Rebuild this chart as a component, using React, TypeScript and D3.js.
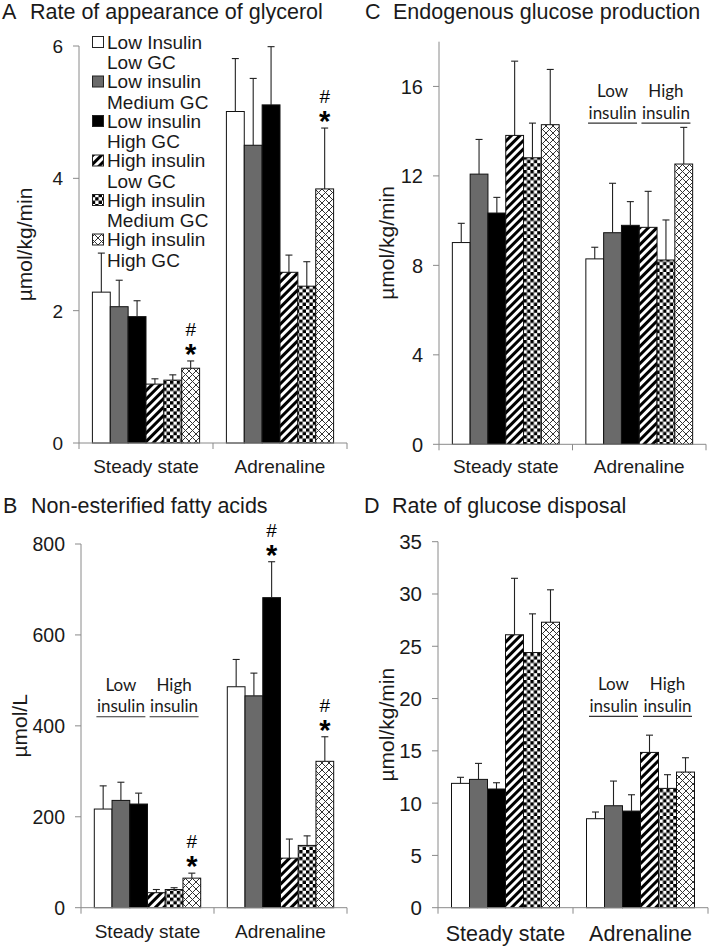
import React from 'react';
import * as d3 from 'd3';

// groups on the x axis
const categories = ['Steady state', 'Adrenaline'];

// the six clamp conditions (legend reads insulin line, then GC line)
const insulinLevels = ['Low Insulin', 'Low insulin', 'Low insulin', 'High insulin', 'High insulin', 'High insulin'];
const gcLevels = ['Low GC', 'Medium GC', 'High GC', 'Low GC', 'Medium GC', 'High GC'];

// A: rate of appearance of glycerol (µmol/kg/min)
const glycerolSteady = [2.28, 2.06, 1.91, 0.89, 0.95, 1.13];
const glycerolSteadySE = [0.59, 0.4, 0.24, 0.08, 0.08, 0.11];
const glycerolAdr = [5.01, 4.5, 5.11, 2.58, 2.37, 3.84];
const glycerolAdrSE = [0.8, 1.01, 0.88, 0.26, 0.37, 0.92];

// B: non-esterified fatty acids (µmol/L)
const nefaSteady = [217, 236, 228, 33, 40, 65];
const nefaSteadySE = [51, 40, 24, 7, 4, 11];
const nefaAdr = [486, 466, 682, 109, 137, 322];
const nefaAdrSE = [60, 50, 79, 42, 21, 54];

// C: endogenous glucose production (µmol/kg/min)
const egpSteady = [9.02, 12.08, 10.34, 13.81, 12.81, 14.29];
const egpSteadySE = [0.86, 1.55, 0.7, 3.32, 1.55, 2.47];
const egpAdr = [8.29, 9.46, 9.79, 9.7, 8.24, 12.53];
const egpAdrSE = [0.52, 2.21, 1.06, 1.61, 1.79, 1.64];

// D: rate of glucose disposal (µmol/kg/min)
const rdSteady = [11.89, 12.27, 11.35, 26.1, 24.4, 27.3];
const rdSteadySE = [0.58, 1.53, 0.6, 5.4, 3.7, 3.1];
const rdAdr = [8.51, 9.75, 9.24, 14.85, 11.41, 12.97];
const rdAdrSE = [0.64, 2.36, 1.56, 1.65, 1.31, 1.37];

// y ticks
const glycerolTicks = [0, 2, 4, 6];
const nefaTicks = [0, 200, 400, 600, 800];
const egpTicks = [0, 4, 8, 12, 16];
const rdTicks = [0, 5, 10, 15, 20, 25, 30, 35];

// significance marks: [category index, series index]
const glycerolSig = [[0, 5], [1, 5]];
const nefaSig = [[0, 5], [1, 2], [1, 5]];

const seriesFill = ['#ffffff', '#6a6a6a', '#000000', 'url(#diag)', 'url(#check)', 'url(#cross)'];
const FONT = "'Liberation Sans', Arial, sans-serif";
const NOTE_FONT = 'Lato, Calibri, sans-serif';
const INK = '#1a1a1a';
const AXIS = '#8a8a8a';

type PanelProps = {
  letter: string;
  title: string;
  titleX: number;
  titleY: number;
  left: number;
  right: number;
  top: number;
  bottom: number;
  max: number;
  ticks: number[];
  values: number[][];
  errors: number[][];
  yLabel: string;
  yLabelX: number;
  tickSize: number;
  catSize: number;
  catY: number;
  sig?: number[][];
  note?: { cat: number; at: number };
  legend?: boolean;
};

const Panel: React.FC<PanelProps> = (p) => {
  const y = d3.scaleLinear().domain([0, p.max]).range([p.bottom, p.top]);
  const x0 = d3.scaleBand<string>().domain(categories).range([p.left, p.right]);
  const x1 = d3
    .scaleBand<number>()
    .domain(d3.range(6))
    .range([0, x0.bandwidth()])
    .paddingInner(0)
    .paddingOuter(0.75);
  const bw = x1.bandwidth();
  const bounds = [p.left, ...categories.map((c) => (x0(c) as number) + x0.bandwidth())];

  return (
    <g>
      <text x={p.titleX} y={p.titleY} fontFamily={FONT} fontSize={21.5} fill={INK}>
        {p.letter}
      </text>
      <text x={p.titleX + 28} y={p.titleY} fontFamily={FONT} fontSize={21.5} fill={INK}>
        {p.title}
      </text>

      {/* bars */}
      {categories.map((c, ci) =>
        p.values[ci].map((v, si) => {
          const bx = (x0(c) as number) + (x1(si) as number);
          return (
            <rect
              key={`b${ci}-${si}`}
              x={bx}
              y={y(v)}
              width={bw}
              height={y(0) - y(v)}
              fill={seriesFill[si]}
              stroke="#111"
              strokeWidth={1}
            />
          );
        })
      )}

      {/* error bars (upper only) */}
      {categories.map((c, ci) =>
        p.values[ci].map((v, si) => {
          const cx = (x0(c) as number) + (x1(si) as number) + bw / 2;
          const top = y(v + p.errors[ci][si]);
          return (
            <g key={`e${ci}-${si}`} stroke="#222" strokeWidth={1.1}>
              <line x1={cx} x2={cx} y1={y(v)} y2={top} />
              <line x1={cx - 3.5} x2={cx + 3.5} y1={top} y2={top} />
            </g>
          );
        })
      )}

      {/* significance */}
      {(p.sig || []).map(([ci, si]) => {
        const v = p.values[ci][si] + p.errors[ci][si];
        const cx = (x0(categories[ci]) as number) + (x1(si) as number) + bw / 2;
        return (
          <g key={`s${ci}-${si}`} fontFamily={FONT} fill="#000" textAnchor="middle">
            <text x={cx} y={y(v) - 25} fontSize={19}>#</text>
            <text x={cx} y={y(v) + 3} fontSize={29} fontWeight="bold">*</text>
          </g>
        );
      })}

      {/* axes */}
      <line x1={p.left} x2={p.left} y1={y(p.max)} y2={y(0)} stroke={AXIS} strokeWidth={1} />
      <line x1={p.left} x2={p.right} y1={y(0)} y2={y(0)} stroke={AXIS} strokeWidth={1} />
      {p.ticks.map((t) => (
        <g key={`t${t}`}>
          <line x1={p.left - 6} x2={p.left} y1={y(t)} y2={y(t)} stroke={AXIS} strokeWidth={1} />
          <text
            x={p.left - 16}
            y={y(t)}
            dy="0.36em"
            textAnchor="end"
            fontFamily={FONT}
            fontSize={p.tickSize}
            fill={INK}
          >
            {t}
          </text>
        </g>
      ))}
      {bounds.map((bx, i) => (
        <line key={`xt${i}`} x1={bx} x2={bx} y1={y(0)} y2={y(0) + 6} stroke={AXIS} strokeWidth={1} />
      ))}
      {categories.map((c) => (
        <text
          key={`c${c}`}
          x={(x0(c) as number) + x0.bandwidth() / 2}
          y={p.catY}
          textAnchor="middle"
          fontFamily={FONT}
          fontSize={p.catSize}
          fill={INK}
        >
          {c}
        </text>
      ))}
      <text
        transform={`translate(${p.yLabelX},${(p.top + p.bottom) / 2}) rotate(-90)`}
        textAnchor="middle"
        dy="0.35em"
        fontFamily={FONT}
        fontSize={21}
        fill={INK}
      >
        {p.yLabel}
      </text>

      {/* Low insulin / High insulin note */}
      {p.note &&
        [0, 1].map((k) => {
          const c = categories[p.note!.cat];
          const a = (x0(c) as number) + (x1(k * 3) as number);
          const b = (x0(c) as number) + (x1(k * 3 + 2) as number) + bw;
          const cx = (a + b) / 2;
          const uy = y(p.note!.at);
          return (
            <g key={`n${k}`} fontFamily={NOTE_FONT} fontSize={17} fill={INK} textAnchor="middle">
              <text x={cx} y={uy - 26}>{k === 0 ? 'Low' : 'High'}</text>
              <text x={cx} y={uy - 4.5}>insulin</text>
              <line x1={cx - 24.5} x2={cx + 24.5} y1={uy} y2={uy} stroke="#333" strokeWidth={1.1} />
            </g>
          );
        })}

      {/* legend */}
      {p.legend &&
        insulinLevels.map((ins, i) => {
          const rowY = 42 + i * 39.5;
          return (
            <g key={`l${i}`} fontFamily={FONT} fontSize={19} fill={INK}>
              <rect x={92.5} y={rowY - 5.5} width={11} height={11} fill={seriesFill[i]} stroke="#222" strokeWidth={1} />
              <text x={107} y={rowY} dy="0.36em">{ins}</text>
              <text x={107} y={rowY + 20.5} dy="0.36em">{gcLevels[i]}</text>
            </g>
          );
        })}
    </g>
  );
};

const App: React.FC = () => {
  return (
    <svg
      width={709}
      height={947}
      style={{ position: 'absolute', left: 0, top: 0, background: '#fff' }}
    >
      <defs>
        <pattern id="diag" patternUnits="userSpaceOnUse" width={6} height={6} patternTransform="rotate(45)">
          <rect width={6} height={6} fill="#fff" />
          <rect width={3} height={6} fill="#000" />
        </pattern>
        <pattern id="check" patternUnits="userSpaceOnUse" width={6.8} height={6.8}>
          <rect width={6.8} height={6.8} fill="#fff" />
          <rect width={3.4} height={3.4} fill="#000" />
          <rect x={3.4} y={3.4} width={3.4} height={3.4} fill="#000" />
        </pattern>
        <pattern id="cross" patternUnits="userSpaceOnUse" width={7} height={7}>
          <rect width={7} height={7} fill="#fff" />
          <path d="M0,0L7,7M7,0L0,7" stroke="#333" strokeWidth={1} />
        </pattern>
      </defs>
      <rect width={709} height={947} fill="#fff" />

      <Panel
        letter="A"
        title="Rate of appearance of glycerol"
        titleX={2}
        titleY={19}
        left={79}
        right={347}
        top={46}
        bottom={443}
        max={6}
        ticks={glycerolTicks}
        values={[glycerolSteady, glycerolAdr]}
        errors={[glycerolSteadySE, glycerolAdrSE]}
        yLabel="µmol/kg/min"
        yLabelX={25}
        tickSize={19}
        catSize={19}
        catY={473}
        sig={glycerolSig}
        legend
      />
      <Panel
        letter="B"
        title="Non-esterified fatty acids"
        titleX={3}
        titleY={512.5}
        left={81}
        right={347}
        top={544}
        bottom={907.7}
        max={800}
        ticks={nefaTicks}
        values={[nefaSteady, nefaAdr]}
        errors={[nefaSteadySE, nefaAdrSE]}
        yLabel="µmol/L"
        yLabelX={20}
        tickSize={19.5}
        catSize={19}
        catY={938}
        sig={nefaSig}
        note={{ cat: 0, at: 420 }}
      />
      <Panel
        letter="C"
        title="Endogenous glucose production"
        titleX={365}
        titleY={19}
        left={439}
        right={706}
        top={41.7}
        bottom={444.3}
        max={18}
        ticks={egpTicks}
        values={[egpSteady, egpAdr]}
        errors={[egpSteadySE, egpAdrSE]}
        yLabel="µmol/kg/min"
        yLabelX={387}
        tickSize={20}
        catSize={19}
        catY={473}
        note={{ cat: 1, at: 14.36 }}
      />
      <Panel
        letter="D"
        title="Rate of glucose disposal"
        titleX={364}
        titleY={513}
        left={438}
        right={708}
        top={541.7}
        bottom={907.7}
        max={35}
        ticks={rdTicks}
        values={[rdSteady, rdAdr]}
        errors={[rdSteadySE, rdAdrSE]}
        yLabel="µmol/kg/min"
        yLabelX={387}
        tickSize={20.5}
        catSize={21.5}
        catY={941}
        note={{ cat: 1, at: 18.3 }}
      />
    </svg>
  );
};

export default App;
